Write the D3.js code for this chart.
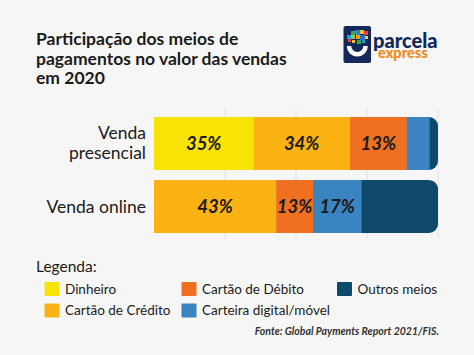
<!DOCTYPE html>
<html><head><meta charset="utf-8">
<script src="https://cdn.jsdelivr.net/npm/d3@7"></script>
<style>
html,body{margin:0;padding:0;background:#f6f6f6;}
svg{display:block;font-family:Lato,'Open Sans',sans-serif;}
</style></head>
<body>
<svg id="c" width="474" height="355"></svg>
<script>
const titleLines = ["Participação dos meios de", "pagamentos no valor das vendas", "em 2020"];
const categories = ["Venda presencial", "Venda online"];
const categoryLines = [["Venda", "presencial"], ["Venda online"]];
const seriesNames = ["Dinheiro", "Cartão de Crédito", "Cartão de Débito", "Carteira digital/móvel", "Outros meios"];
const seriesColors = ["#f9e206", "#fbb314", "#ee7020", "#3a84c1", "#0e486b"];
const presencialValues = [35, 34, 20, 8, 3];
const onlineValues = [0, 43, 13, 17, 27];
const presencialLabels = ["35%", "34%", "13%", "", ""];
const onlineLabels = ["", "43%", "13%", "17%", ""];
const gridTicks = [25, 50, 75, 100];
const sourceText = "Fonte: Global Payments Report 2021/FIS.";

const valuesByCat = [presencialValues, onlineValues];
const labelsByCat = [presencialLabels, onlineLabels];

const svg = d3.select("#c");
const ink = "#1b1b1b";

// title
svg.append("g").selectAll("text").data(titleLines).join("text")
  .attr("x", 36).attr("y", (d, i) => 45 + i * 19.5)
  .attr("font-size", 17.5).attr("font-weight", "bold").attr("fill", ink).text(d => d);

// logo
const logo = svg.append("g");
logo.append("rect").attr("x", 343.5).attr("y", 26).attr("width", 27.5).attr("height", 37).attr("rx", 2).attr("fill", "#14285a");
const mosaic = [[351,31,4,"#3aa845"],[355,30,5,"#2f7fd0"],[360,30,4,"#f4c21a"],[364,31,4,"#e8463a"],[347,35,4,"#1f9fd8"],[351,35,4,"#8cc63f"],[356,35,4,"#f29a1f"],[360,35,5,"#2b6fc2"],[365,36,3,"#f4d21a"],[348,39,3,"#e8463a"],[352,40,3,"#f4c21a"],[357,40,4,"#3aa845"],[362,40,3,"#1f9fd8"]];
logo.selectAll("rect.m").data(mosaic).join("rect").attr("class","m")
  .attr("x", d => d[0]).attr("y", d => d[1]).attr("width", d => d[2]).attr("height", d => d[2]).attr("fill", d => d[3]);
logo.append("path").attr("d", "M349,46 A8.3,8.3 0 0 0 365.6,46").attr("fill", "none").attr("stroke", "#fff").attr("stroke-width", 4.5);
logo.append("text").attr("x", 373).attr("y", 48).attr("font-size", 20).attr("font-weight", "900").attr("fill", "#14285a").text("parcela");
logo.append("text").attr("x", 378).attr("y", 58).attr("font-size", 14.5).attr("font-weight", "900").attr("fill", "#f08a1c").text("express");

// scales
const x = d3.scaleLinear().domain([0, 100]).range([154, 438]);
const y = d3.scaleBand().domain(categories).range([117, 233]).paddingInner(0.16).paddingOuter(0);

// grid
svg.append("g").selectAll("line").data(gridTicks).join("line")
  .attr("x1", d => x(d)).attr("x2", d => x(d)).attr("y1", 110).attr("y2", 239)
  .attr("stroke", "#e2e2e2").attr("stroke-width", 1);

// bars
const r = 9;
categories.forEach((cat, ci) => {
  const y0 = y(cat), h = y.bandwidth();
  const x0 = x(0), x1 = x(100);
  const id = "clip" + ci;
  svg.append("clipPath").attr("id", id).append("path")
    .attr("d", `M${x0},${y0} H${x1 - r} A${r},${r} 0 0 1 ${x1},${y0 + r} V${y0 + h - r} A${r},${r} 0 0 1 ${x1 - r},${y0 + h} H${x0} Z`);
  const vals = valuesByCat[ci];
  const cum = d3.cumsum(vals);
  const segs = vals.map((v, i) => ({v, start: cum[i] - v, end: cum[i], color: seriesColors[i], label: labelsByCat[ci][i]}));
  const g = svg.append("g").attr("clip-path", `url(#${id})`);
  g.selectAll("rect").data(segs.filter(s => s.v > 0)).join("rect")
    .attr("x", d => x(d.start)).attr("width", d => x(d.end) - x(d.start) + 0.3)
    .attr("y", y0).attr("height", h).attr("fill", d => d.color);
  svg.append("g").selectAll("text").data(segs.filter(s => s.label)).join("text")
    .attr("x", d => x((d.start + d.end) / 2)).attr("y", y0 + h / 2 + 6.5)
    .attr("text-anchor", "middle").attr("font-size", 18.5).attr("font-weight", "bold").attr("font-style", "italic")
    .attr("fill", ink).text(d => d.label);
  // category label
  const lines = categoryLines[ci];
  svg.append("g").selectAll("text").data(lines).join("text")
    .attr("x", 146).attr("y", (d, i) => y0 + h / 2 + 6 + (i - (lines.length - 1) / 2) * 20)
    .attr("text-anchor", "end").attr("font-size", 17.5).attr("fill", ink).text(d => d);
});

// legend
svg.append("text").attr("x", 36).attr("y", 272).attr("font-size", 15.5).attr("fill", ink).text("Legenda:");
const colX = [44.5, 181.5, 337];
const rowY = [282, 303.5];
const lg = svg.append("g").selectAll("g").data(seriesNames).join("g")
  .attr("transform", (d, i) => `translate(${colX[Math.floor(i / 2)]},${rowY[i % 2]})`);
lg.append("rect").attr("width", 15).attr("height", 14).attr("rx", 1).attr("fill", (d, i) => seriesColors[i]);
lg.append("text").attr("x", 20.5).attr("y", 11.5).attr("font-size", 13.5).attr("fill", ink).text(d => d);

// source
svg.append("text").attr("x", 439).attr("y", 335).attr("text-anchor", "end")
  .attr("font-size", 10.5).attr("font-style", "italic").attr("font-weight", "bold").attr("fill", "#333").text(sourceText);
</script>
</body></html>
